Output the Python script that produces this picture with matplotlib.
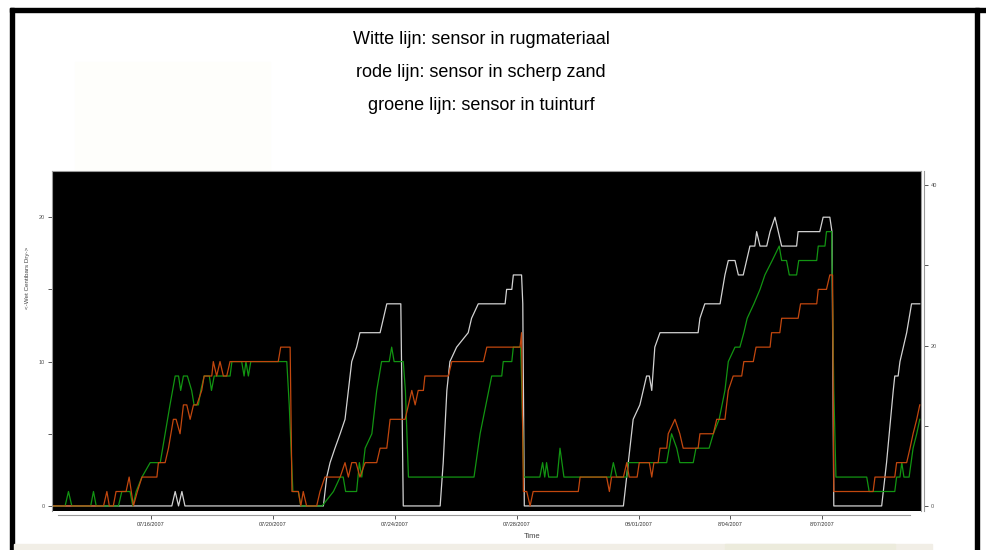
import matplotlib
matplotlib.use('Agg')
import matplotlib.pyplot as plt
from matplotlib.patches import Rectangle

# sensor readings, x in days after 07/16/2007, y in centibar steps
days_white = [-3.25, 0.68, 0.79, 0.90, 1.01, 1.11, 5.65, 5.76, 5.87, 6.03, 6.20, 6.36, 6.47, 6.58,
              6.74, 6.85, 7.51, 7.62, 7.73, 8.19, 8.27, 9.48, 9.58, 9.70, 9.80, 10.02, 10.40,
              10.51, 10.73, 11.61, 11.66, 11.83, 11.88, 12.15, 12.19, 12.24, 15.49, 15.65, 15.81,
              16.03, 16.25, 16.34, 16.42, 16.52, 16.69, 17.94, 18.00, 18.16, 18.66, 18.82, 18.93,
              19.15, 19.26, 19.42, 19.53, 19.64, 19.80, 19.86, 19.97, 20.19, 20.30, 20.46, 20.57,
              20.68, 21.17, 21.22, 21.93, 22.04, 22.26, 22.33, 22.39, 23.96, 24.12, 24.34, 24.39,
              24.50, 24.56, 24.67, 24.78, 24.94, 25.21]
level_white = [0, 0, 1, 0, 1, 0, 0, 2, 3, 4, 5, 6, 8, 10,
               11, 12, 12, 13, 14, 14, 0, 0, 3, 8, 10, 11, 12,
               13, 14, 14, 15, 15, 16, 16, 14, 0, 0, 3, 6,
               7, 9, 9, 8, 11, 12, 12, 13, 14, 14, 16, 17,
               17, 16, 16, 17, 18, 18, 19, 18, 18, 19, 20, 19,
               18, 18, 19, 19, 20, 20, 19, 0, 0, 3, 8, 9,
               9, 10, 11, 12, 14, 14]

days_red = [-3.25, -1.56, -1.45, -1.37, -1.24, -1.15, -0.82, -0.72, -0.58, -0.45, -0.30, 0.19,
            0.24, 0.46, 0.57, 0.73, 0.82, 0.95, 1.06, 1.17, 1.28, 1.39, 1.50, 1.66, 1.74, 1.99,
            2.04, 2.15, 2.26, 2.37, 2.48, 2.59, 4.17, 4.25, 4.56, 4.62, 4.83, 4.91, 4.99, 5.10,
            5.43, 5.54, 5.70, 6.20, 6.36, 6.47, 6.58, 6.72, 6.85, 7.02, 7.40, 7.51, 7.73, 7.84,
            8.33, 8.55, 8.66, 8.76, 8.93, 8.98, 9.75, 9.86, 10.90, 11.01, 12.10, 12.15, 12.21,
            12.32, 12.43, 12.53, 14.01, 14.07, 14.94, 15.03, 15.10, 15.49, 15.60, 15.68, 15.94,
            16.01, 16.34, 16.42, 16.49, 16.63, 16.69, 16.91, 16.96, 17.18, 17.34, 17.45, 17.94,
            18.00, 18.44, 18.55, 18.82, 18.93, 19.09, 19.37, 19.44, 19.75, 19.84, 20.30, 20.35,
            20.62, 20.68, 21.22, 21.30, 21.83, 21.88, 22.15, 22.26, 22.35, 22.39, 23.68, 23.74,
            24.39, 24.45, 24.78, 24.89, 24.99, 25.11, 25.21]
level_red = [0, 0, 1, 0, 0, 1, 1, 2, 0, 1, 2, 2,
             3, 3, 4, 6, 6, 5, 7, 7, 6, 7, 7, 8, 9, 9,
             10, 9, 10, 9, 9, 10, 10, 11, 11, 1, 1, 0, 1, 0,
             0, 1, 2, 2, 3, 2, 3, 3, 2, 3, 3, 4, 4, 6,
             6, 8, 7, 8, 8, 9, 9, 10, 10, 11, 11, 12, 1,
             1, 0, 1, 1, 2, 2, 1, 2, 2, 3, 2, 2,
             3, 3, 2, 3, 3, 4, 4, 5, 6, 5, 4, 4,
             5, 5, 6, 6, 8, 9, 9, 10, 10, 11, 11, 12,
             12, 13, 13, 14, 14, 15, 15, 16, 16, 1, 1, 2,
             2, 3, 3, 4, 5, 6, 7]

days_green = [-3.25, -2.82, -2.71, -2.60, -1.98, -1.89, -1.80, -1.07, -0.96, -0.69, -0.60, -0.49,
              -0.30, -0.03, 0.30, 0.46, 0.62, 0.79, 0.90, 0.97, 1.06, 1.19, 1.33, 1.41, 1.55,
              1.63, 1.74, 1.91, 1.98, 2.07, 2.59, 2.65, 2.97, 3.05, 3.11, 3.19, 3.27, 4.45, 4.53,
              4.65, 4.83, 4.91, 5.61, 5.98, 6.20, 6.30, 6.38, 6.74, 6.83, 6.91, 7.02, 7.24, 7.40,
              7.56, 7.81, 7.89, 7.97, 8.27, 8.34, 8.44, 10.59, 10.79, 11.17, 11.50, 11.55, 11.83,
              11.88, 12.12, 12.16, 12.22, 12.75, 12.84, 12.91, 12.97, 13.04, 13.32, 13.41, 13.54,
              15.07, 15.16, 15.27, 15.60, 15.65, 16.91, 17.07, 17.24, 17.34, 17.78, 17.87, 18.30,
              18.44, 18.63, 18.82, 18.93, 19.15, 19.31, 19.44, 19.55, 19.77, 19.97, 20.13, 20.37,
              20.60, 20.68, 20.84, 20.93, 21.17, 21.24, 21.83, 21.88, 22.10, 22.15, 22.32, 22.39,
              22.46, 23.47, 23.55, 24.39, 24.45, 24.56, 24.62, 24.69, 24.86, 24.99, 25.11, 25.21]
level_green = [0, 0, 1, 0, 0, 1, 0, 0, 1, 1, 0, 1,
               2, 3, 3, 5, 7, 9, 9, 8, 9, 9, 8, 7, 7,
               8, 9, 9, 8, 9, 9, 10, 10, 9, 10, 9, 10, 10, 7,
               1, 1, 0, 0, 1, 2, 2, 1, 1, 3, 2, 4, 5, 8,
               10, 10, 11, 10, 10, 8, 2, 2, 5, 9, 9, 10, 10,
               11, 11, 8, 2, 2, 3, 2, 3, 2, 2, 4, 2,
               2, 3, 2, 2, 3, 3, 5, 4, 3, 3, 4, 4,
               5, 6, 8, 10, 11, 11, 12, 13, 14, 15, 16, 17,
               18, 17, 17, 16, 16, 17, 17, 18, 18, 19, 19, 8,
               2, 2, 1, 1, 2, 2, 3, 2, 2, 4, 5, 6]

tick_days = [0, 4, 8, 12, 16, 19, 22]
tick_labels = ['07/16/2007', '07/20/2007', '07/24/2007', '07/28/2007', '08/01/2007',
               '8/04/2007', '8/07/2007']
left_ticks = [0, 5, 10, 15, 20]
left_labels = ['0', '', '10', '', '20']
right_ticks = [0, 10, 20, 30, 40]
right_labels = ['0', '', '20', '', '40']

titles = ['Witte lijn: sensor in rugmateriaal',
          'rode lijn: sensor in scherp zand',
          'groene lijn: sensor in tuinturf']

plt.rcParams['font.family'] = ['Liberation Sans', 'DejaVu Sans']

fig = plt.figure(figsize=(9.86, 5.5), dpi=100)
W, H = 986, 550

# page decoration (screenshot frame)
fig.add_artist(Rectangle((10 / W, 0), 4 / W, 542 / H, transform=fig.transFigure, color='black'))
fig.add_artist(Rectangle((10 / W, 538 / H), 976 / W, 4 / H, transform=fig.transFigure, color='black'))
fig.add_artist(Rectangle((975 / W, 0), 4 / W, 542 / H, transform=fig.transFigure, color='black'))
fig.add_artist(Rectangle((75 / W, 380 / H), 195 / W, 108 / H, transform=fig.transFigure,
                         color='#fefefb', zorder=0))
fig.add_artist(Rectangle((14 / W, 0), 918 / W, 6 / H, transform=fig.transFigure, color='#f1eee6'))
fig.add_artist(Rectangle((725 / W, 0), 170 / W, 6 / H, transform=fig.transFigure, color='#ecebdc'))

for i, t in enumerate(titles):
    fig.text(481 / W, 1 - (40 + 32.5 * i) / H, t, ha='center', va='center', fontsize=13)

ax = fig.add_axes([52 / W, 39 / H, 869 / W, 340 / H])
ax.set_facecolor('black')
ax.plot(days_white, level_white, color='#d2d2d2', lw=0.9)
ax.plot(days_green, level_green, color='#129412', lw=0.9)
ax.plot(days_red, level_red, color='#c2470e', lw=0.9)

ax.set_xlim(-3.25, 25.25)
ax.set_ylim(-0.35, 23.2)
for s in ax.spines.values():
    s.set_color('#9a9a9a')
ax.spines['bottom'].set_position(('outward', 3))
ax.spines['bottom'].set_bounds(-3.05, 24.9)

ax.set_xticks(tick_days)
ax.set_xticklabels(tick_labels)
ax.set_yticks(left_ticks)
ax.set_yticklabels(left_labels)
ax.tick_params(axis='both', colors='#555555', labelsize=4, length=3, width=0.7, pad=2)
ax.tick_params(axis='x', labelcolor='#333333')

ax2 = ax.twinx()
ax2.set_ylim(-0.35 * 1.8, 23.2 * 1.8)
ax2.set_yticks(right_ticks)
ax2.set_yticklabels(right_labels)
ax2.tick_params(axis='y', colors='#555555', labelsize=4, length=3, width=0.7, pad=2)
for s in ax2.spines.values():
    s.set_visible(False)
ax2.spines['right'].set_visible(True)
ax2.spines['right'].set_color('#9a9a9a')
ax2.spines['right'].set_position(('outward', 2))

fig.text(27 / W, 1 - 278 / H, '<-Wet Centibars Dry->', rotation=90, ha='center', va='center',
         fontsize=4.5, color='#444444')
fig.text(532 / W, 1 - 537 / H, 'Time', ha='center', va='center', fontsize=5.5, color='#444444')

fig.savefig('out.png', dpi=100, facecolor='white')
